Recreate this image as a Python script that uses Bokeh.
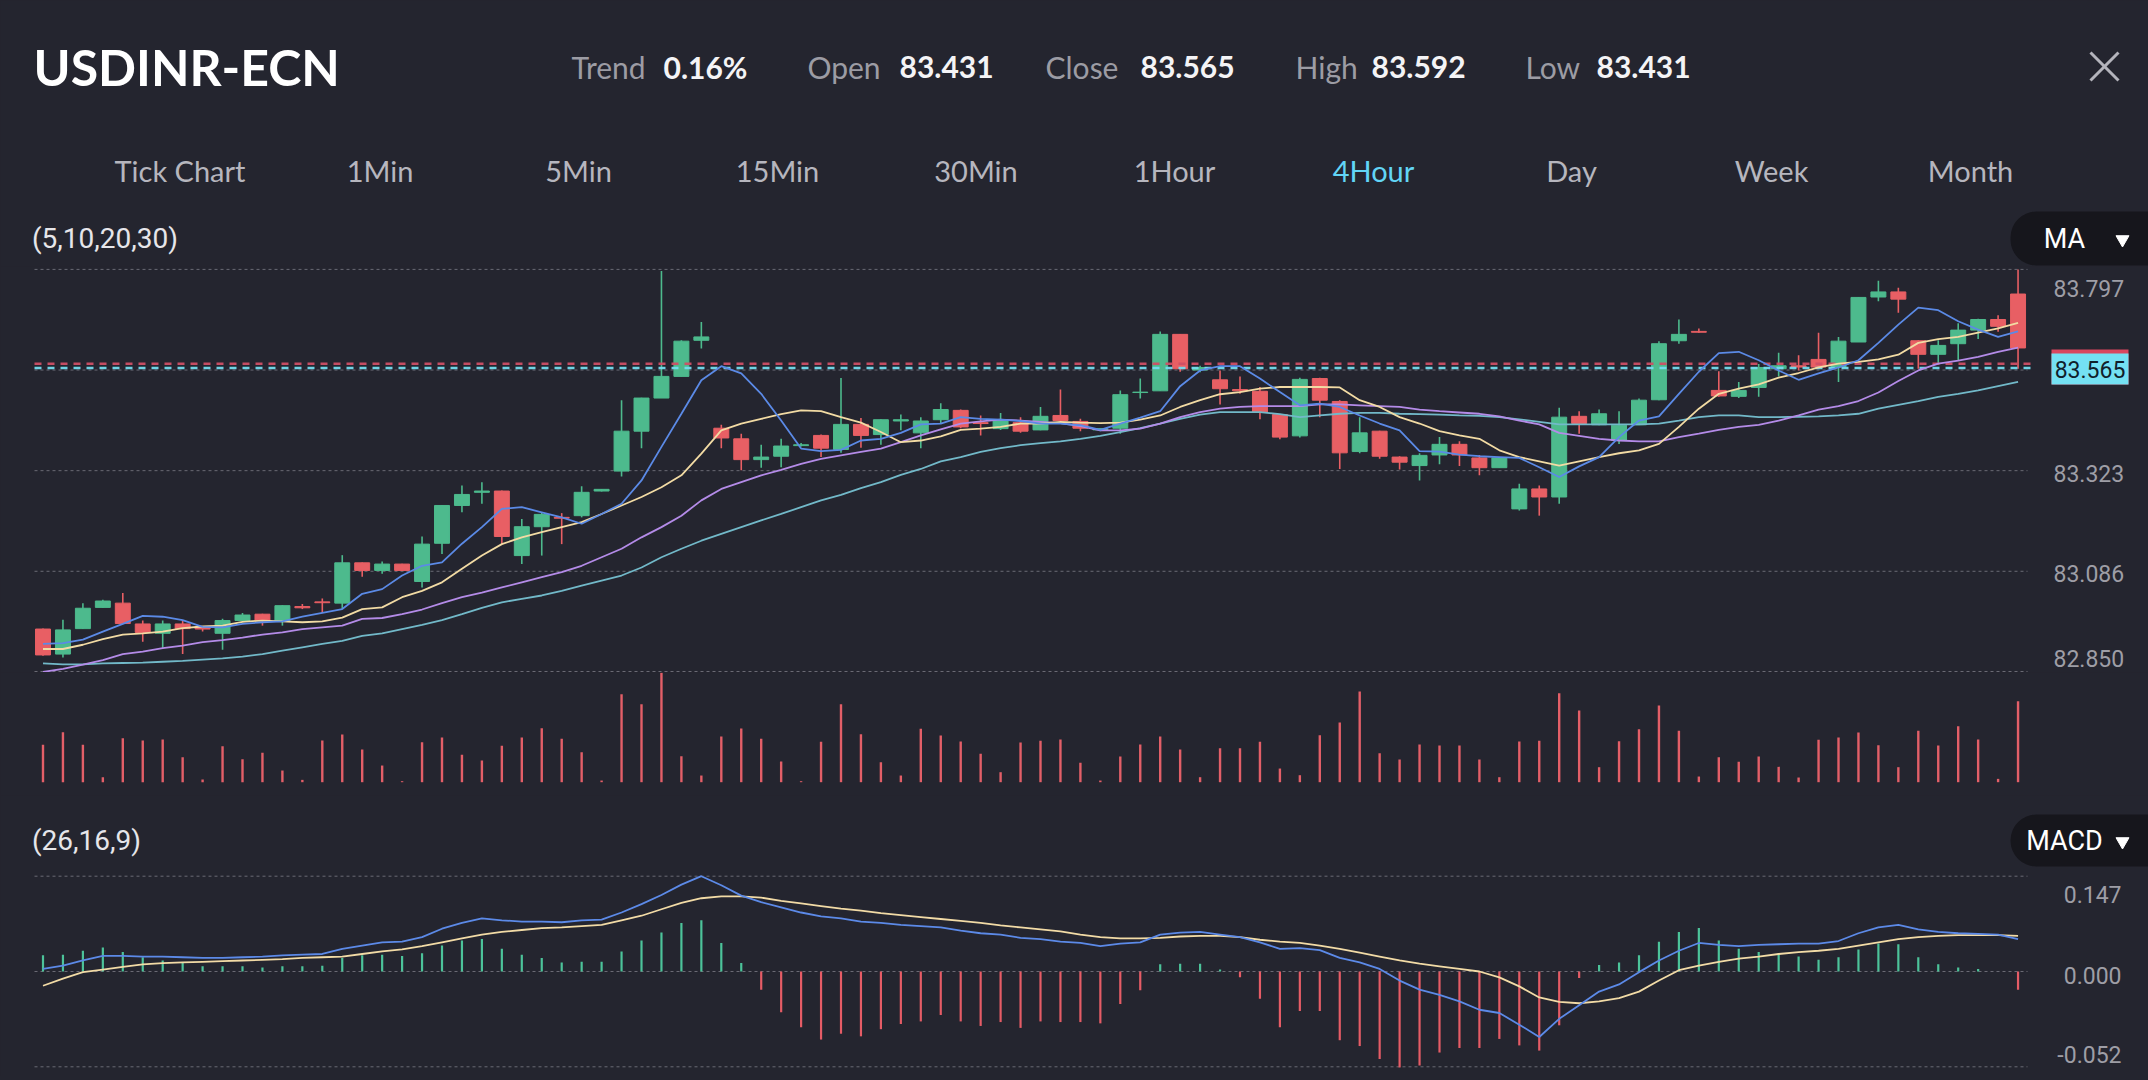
from bokeh.plotting import figure
from bokeh.layouts import column
from bokeh.models import Range1d, BoxAnnotation, ColumnDataSource
from bokeh.core.properties import value
from bokeh.embed import file_html
from bokeh.resources import INLINE

# ---------------- data ----------------
symbol = "USDINR-ECN"
stat_labels = ["Trend", "Open", "Close", "High", "Low"]
stat_values = ["0.16%", "83.431", "83.565", "83.592", "83.431"]
tabs = ["Tick Chart", "1Min", "5Min", "15Min", "30Min", "1Hour", "4Hour", "Day", "Week", "Month"]
active_tab = "4Hour"
ma_params = "(5,10,20,30)"
macd_params = "(26,16,9)"

open_ = [82.950, 82.891, 82.951, 83.001, 83.011, 82.962, 82.940, 82.962, 82.956, 82.940,
         82.970, 82.985, 82.968, 83.003, 83.014, 83.011, 83.106, 83.088, 83.103, 83.062,
         83.152, 83.241, 83.272, 83.275, 83.123, 83.191, 83.213, 83.217, 83.275, 83.322,
         83.416, 83.494, 83.545, 83.630, 83.423, 83.398, 83.349, 83.357, 83.382, 83.406,
         83.373, 83.432, 83.408, 83.440, 83.412, 83.443, 83.465, 83.436, 83.422, 83.436,
         83.419, 83.453, 83.439, 83.419, 83.423, 83.507, 83.511, 83.644, 83.560, 83.537,
         83.514, 83.510, 83.455, 83.405, 83.540, 83.486, 83.368, 83.416, 83.355, 83.335,
         83.360, 83.385, 83.353, 83.330, 83.233, 83.280, 83.261, 83.451, 83.431, 83.394,
         83.431, 83.490, 83.629, 83.651, 83.512, 83.498, 83.519, 83.563, 83.570, 83.585,
         83.567, 83.626, 83.732, 83.744, 83.629, 83.597, 83.622, 83.654, 83.679, 83.739]
high = [82.951, 82.972, 83.011, 83.019, 83.035, 82.970, 82.970, 82.970, 82.957, 82.974,
        82.988, 82.986, 83.006, 83.009, 83.022, 83.124, 83.107, 83.109, 83.104, 83.168,
        83.242, 83.288, 83.296, 83.276, 83.209, 83.225, 83.223, 83.286, 83.280, 83.489,
        83.495, 83.793, 83.630, 83.673, 83.431, 83.410, 83.384, 83.398, 83.388, 83.408,
        83.541, 83.447, 83.444, 83.455, 83.449, 83.482, 83.467, 83.453, 83.459, 83.449,
        83.473, 83.514, 83.445, 83.423, 83.512, 83.540, 83.651, 83.645, 83.570, 83.559,
        83.545, 83.520, 83.456, 83.542, 83.542, 83.489, 83.449, 83.417, 83.357, 83.364,
        83.402, 83.392, 83.360, 83.355, 83.292, 83.288, 83.471, 83.463, 83.467, 83.463,
        83.493, 83.628, 83.679, 83.658, 83.557, 83.532, 83.574, 83.601, 83.595, 83.648,
        83.638, 83.732, 83.770, 83.754, 83.630, 83.630, 83.670, 83.681, 83.689, 83.797]
low = [82.887, 82.883, 82.950, 83.000, 82.962, 82.920, 82.905, 82.891, 82.944, 82.901,
       82.970, 82.958, 82.958, 82.997, 82.988, 82.997, 83.073, 83.080, 83.087, 83.048,
       83.127, 83.225, 83.245, 83.150, 83.103, 83.123, 83.150, 83.213, 83.274, 83.309,
       83.376, 83.494, 83.545, 83.611, 83.376, 83.324, 83.330, 83.331, 83.380, 83.355,
       83.365, 83.377, 83.384, 83.418, 83.376, 83.434, 83.423, 83.406, 83.419, 83.412,
       83.418, 83.440, 83.416, 83.416, 83.410, 83.493, 83.511, 83.556, 83.555, 83.479,
       83.504, 83.444, 83.397, 83.401, 83.449, 83.327, 83.364, 83.351, 83.326, 83.300,
       83.338, 83.334, 83.312, 83.330, 83.229, 83.217, 83.245, 83.410, 83.430, 83.386,
       83.431, 83.489, 83.622, 83.648, 83.497, 83.494, 83.497, 83.545, 83.559, 83.566,
       83.532, 83.626, 83.722, 83.695, 83.563, 83.575, 83.583, 83.633, 83.650, 83.563]
close = [82.889, 82.948, 82.999, 83.016, 82.963, 82.942, 82.962, 82.951, 82.950, 82.970,
         82.983, 82.970, 83.005, 83.000, 83.012, 83.106, 83.088, 83.103, 83.088, 83.150,
         83.241, 83.267, 83.275, 83.168, 83.191, 83.220, 83.211, 83.272, 83.279, 83.416,
         83.494, 83.545, 83.628, 83.638, 83.400, 83.349, 83.355, 83.381, 83.384, 83.376,
         83.432, 83.406, 83.443, 83.443, 83.440, 83.467, 83.426, 83.434, 83.443, 83.416,
         83.451, 83.441, 83.423, 83.422, 83.502, 83.508, 83.644, 83.563, 83.566, 83.516,
         83.511, 83.461, 83.402, 83.538, 83.489, 83.365, 83.412, 83.357, 83.343, 83.359,
         83.385, 83.360, 83.330, 83.353, 83.280, 83.261, 83.449, 83.434, 83.457, 83.430,
         83.489, 83.622, 83.644, 83.649, 83.499, 83.512, 83.566, 83.570, 83.567, 83.567,
         83.628, 83.731, 83.744, 83.727, 83.597, 83.618, 83.654, 83.679, 83.663, 83.612]

ma5 = [82.915, 82.917, 82.925, 82.944, 82.962, 82.981, 82.979, 82.971, 82.955, 82.954,
       82.962, 82.966, 82.968, 82.979, 82.988, 82.997, 83.033, 83.044, 83.076, 83.099,
       83.107, 83.151, 83.190, 83.233, 83.237, 83.225, 83.213, 83.198, 83.221, 83.245,
       83.300, 83.379, 83.457, 83.536, 83.569, 83.552, 83.504, 83.441, 83.375, 83.369,
       83.372, 83.394, 83.398, 83.412, 83.432, 83.434, 83.449, 83.445, 83.443, 83.440,
       83.434, 83.434, 83.430, 83.419, 83.434, 83.448, 83.463, 83.522, 83.559, 83.569,
       83.569, 83.540, 83.508, 83.477, 83.481, 83.473, 83.453, 83.434, 83.418, 83.369,
       83.368, 83.361, 83.357, 83.355, 83.353, 83.331, 83.308, 83.333, 83.355, 83.402,
       83.441, 83.451, 83.504, 83.556, 83.600, 83.603, 83.583, 83.559, 83.537, 83.552,
       83.566, 83.583, 83.624, 83.667, 83.707, 83.701, 83.675, 83.655, 83.638, 83.651]
ma10 = [82.903, 82.903, 82.913, 82.926, 82.937, 82.940, 82.944, 82.952, 82.956, 82.958,
        82.967, 82.970, 82.968, 82.966, 82.968, 82.977, 82.997, 83.001, 83.025, 83.040,
        83.060, 83.092, 83.123, 83.150, 83.166, 83.178, 83.190, 83.202, 83.221, 83.241,
        83.261, 83.284, 83.312, 83.363, 83.418, 83.434, 83.445, 83.456, 83.465, 83.463,
        83.449, 83.436, 83.414, 83.390, 83.394, 83.404, 83.419, 83.422, 83.426, 83.434,
        83.434, 83.438, 83.436, 83.435, 83.436, 83.443, 83.453, 83.473, 83.489, 83.503,
        83.508, 83.516, 83.520, 83.520, 83.520, 83.519, 83.489, 83.473, 83.449, 83.434,
        83.416, 83.406, 83.398, 83.371, 83.355, 83.345, 83.335, 83.345, 83.355, 83.364,
        83.371, 83.386, 83.426, 83.469, 83.504, 83.516, 83.526, 83.542, 83.553, 83.566,
        83.575, 83.579, 83.585, 83.596, 83.624, 83.633, 83.638, 83.648, 83.658, 83.671]
ma20 = [82.849, 82.856, 82.866, 82.877, 82.891, 82.897, 82.905, 82.911, 82.919, 82.924,
        82.930, 82.937, 82.942, 82.950, 82.954, 82.958, 82.974, 82.976, 82.985, 82.996,
        83.011, 83.025, 83.036, 83.048, 83.060, 83.072, 83.084, 83.099, 83.119, 83.139,
        83.166, 83.190, 83.217, 83.253, 83.280, 83.296, 83.312, 83.325, 83.339, 83.351,
        83.359, 83.367, 83.375, 83.390, 83.406, 83.420, 83.434, 83.439, 83.443, 83.441,
        83.438, 83.435, 83.428, 83.418, 83.418, 83.422, 83.434, 83.449, 83.461, 83.469,
        83.473, 83.475, 83.475, 83.475, 83.479, 83.479, 83.477, 83.475, 83.473, 83.467,
        83.463, 83.460, 83.457, 83.451, 83.441, 83.432, 83.412, 83.405, 83.398, 83.394,
        83.392, 83.392, 83.402, 83.410, 83.419, 83.426, 83.431, 83.441, 83.453, 83.467,
        83.475, 83.487, 83.507, 83.534, 83.559, 83.575, 83.582, 83.591, 83.603, 83.613]
ma30 = [82.869, 82.867, 82.867, 82.869, 82.870, 82.871, 82.873, 82.875, 82.878, 82.881,
        82.885, 82.891, 82.899, 82.907, 82.915, 82.922, 82.934, 82.940, 82.950, 82.960,
        82.971, 82.985, 83.000, 83.013, 83.021, 83.029, 83.040, 83.052, 83.064, 83.076,
        83.095, 83.119, 83.139, 83.158, 83.174, 83.190, 83.206, 83.221, 83.237, 83.253,
        83.266, 83.282, 83.296, 83.313, 83.327, 83.345, 83.355, 83.367, 83.376, 83.383,
        83.388, 83.392, 83.398, 83.405, 83.414, 83.423, 83.434, 83.445, 83.455, 83.461,
        83.461, 83.461, 83.456, 83.449, 83.453, 83.457, 83.459, 83.459, 83.457, 83.456,
        83.455, 83.453, 83.452, 83.449, 83.444, 83.438, 83.432, 83.432, 83.432, 83.432,
        83.432, 83.434, 83.441, 83.449, 83.453, 83.453, 83.449, 83.449, 83.450, 83.451,
        83.453, 83.457, 83.469, 83.478, 83.487, 83.497, 83.504, 83.512, 83.522, 83.532]

volume = [112, 150, 112, 15, 132, 125, 128, 75, 8, 108,
          69, 88, 35, 7, 125, 143, 98, 50, 3, 120,
          134, 82, 65, 109, 134, 162, 130, 90, 5, 264,
          234, 328, 78, 20, 137, 161, 130, 62, 3, 121,
          234, 144, 60, 20, 160, 140, 122, 85, 30, 119,
          124, 128, 58, 5, 77, 113, 137, 98, 15, 102,
          102, 121, 41, 21, 141, 179, 272, 87, 68, 113,
          110, 110, 68, 15, 122, 124, 267, 215, 45, 123,
          159, 230, 154, 17, 75, 61, 77, 46, 14, 127,
          134, 149, 111, 45, 154, 110, 168, 128, 10, 243]

dif = [0.004, 0.009, 0.017, 0.024, 0.024, 0.023, 0.023, 0.022, 0.021, 0.021,
       0.022, 0.023, 0.025, 0.026, 0.027, 0.035, 0.040, 0.045, 0.046, 0.053,
       0.066, 0.075, 0.082, 0.079, 0.077, 0.077, 0.076, 0.079, 0.080, 0.091,
       0.104, 0.118, 0.134, 0.147, 0.133, 0.117, 0.107, 0.099, 0.091, 0.085,
       0.082, 0.077, 0.075, 0.072, 0.070, 0.068, 0.063, 0.059, 0.057, 0.052,
       0.050, 0.046, 0.044, 0.039, 0.043, 0.045, 0.057, 0.060, 0.061, 0.057,
       0.053, 0.045, 0.035, 0.036, 0.033, 0.021, 0.014, 0.004, -0.014, -0.028,
       -0.036, -0.046, -0.059, -0.064, -0.082, -0.101, -0.073, -0.052, -0.031, -0.020,
       -0.001, 0.017, 0.032, 0.044, 0.041, 0.039, 0.041, 0.042, 0.043, 0.043,
       0.047, 0.059, 0.068, 0.072, 0.065, 0.061, 0.059, 0.058, 0.057, 0.050]
dea = [-0.022, -0.011, -0.001, 0.003, 0.007, 0.011, 0.013, 0.014, 0.015, 0.016,
       0.017, 0.018, 0.019, 0.021, 0.022, 0.023, 0.027, 0.031, 0.034, 0.039,
       0.045, 0.051, 0.057, 0.061, 0.064, 0.067, 0.068, 0.070, 0.072, 0.079,
       0.086, 0.096, 0.106, 0.113, 0.116, 0.116, 0.114, 0.109, 0.105, 0.101,
       0.097, 0.094, 0.090, 0.087, 0.084, 0.081, 0.078, 0.075, 0.071, 0.068,
       0.065, 0.062, 0.057, 0.053, 0.051, 0.051, 0.052, 0.054, 0.055, 0.055,
       0.053, 0.049, 0.046, 0.044, 0.040, 0.035, 0.029, 0.023, 0.017, 0.012,
       0.008, 0.004, 0.000, -0.009, -0.023, -0.040, -0.047, -0.049, -0.046, -0.041,
       -0.031, -0.014, 0.002, 0.009, 0.015, 0.020, 0.023, 0.027, 0.030, 0.032,
       0.035, 0.040, 0.045, 0.050, 0.053, 0.055, 0.056, 0.056, 0.056, 0.055]
hist = [0.025, 0.026, 0.032, 0.037, 0.030, 0.022, 0.017, 0.013, 0.008, 0.008,
        0.008, 0.006, 0.008, 0.008, 0.009, 0.021, 0.025, 0.026, 0.024, 0.028,
        0.040, 0.048, 0.050, 0.035, 0.026, 0.021, 0.014, 0.015, 0.015, 0.031,
        0.048, 0.060, 0.075, 0.079, 0.044, 0.013, -0.028, -0.063, -0.086, -0.105,
        -0.096, -0.100, -0.089, -0.081, -0.077, -0.067, -0.077, -0.084, -0.078, -0.087,
        -0.077, -0.078, -0.078, -0.080, -0.050, -0.029, 0.011, 0.012, 0.012, 0.003,
        -0.009, -0.042, -0.086, -0.061, -0.061, -0.106, -0.115, -0.135, -0.148, -0.145,
        -0.125, -0.118, -0.118, -0.104, -0.114, -0.122, -0.083, -0.010, 0.010, 0.014,
        0.025, 0.046, 0.061, 0.067, 0.048, 0.035, 0.030, 0.028, 0.023, 0.018,
        0.022, 0.034, 0.043, 0.042, 0.022, 0.011, 0.006, 0.004, 0.000, -0.028]

price_grid = [83.797, 83.560, 83.323, 83.086, 82.850]
price_tick_labels = ["83.797", "83.323", "83.086", "82.850"]
macd_grid = [0.147, 0.0, -0.147]
macd_tick_labels = ["0.147", "0.000", "-0.052"]
last_price = 83.565
ask_price = 83.575

# ---------------- styling / layout ----------------
BG = "#24252f"
W = 2148
UP = "#4dba8d"
DOWN = "#e85f64"
GRID = "#6a6a74"
AXIS_TXT = "#9e9ea6"
C_MA5, C_MA10, C_MA20, C_MA30 = "#5b8ae6", "#f2dba4", "#b48be8", "#72b9c9"
C_DIF, C_DEA = "#5c8ae8", "#f2dba6"
LATO = value("Lato")
ROBOTO = value("Roboto")


def X(wx):   # window pixel x -> candle index units
    return (wx - 42.5) / 19.95


def PY(wy):  # window pixel y -> price
    return 82.85 + (671.0 - wy) / 424.6


def VY(wy):  # window pixel y -> volume units
    return (781.7 - wy) * 3.0


def MY(wy):  # window pixel y -> MACD units
    return (971.0 - wy) * 0.0015425


def base_fig(height, x_range, y_range):
    f = figure(width=W, height=height, x_range=x_range, y_range=y_range,
               toolbar_location=None, output_backend="svg", tools="",
               x_axis_location=None, y_axis_location=None,
               min_border=0, outline_line_color=None,
               background_fill_color=BG, border_fill_color=BG)
    f.grid.visible = False
    return f


idx = list(range(len(close)))

# ---------- header (window y 0..266) ----------
hdr = base_fig(266, Range1d(0, 2148), Range1d(-266, 0))
hdr.text(x=[33], y=[-66], text=[symbol], text_font=LATO, text_font_style="bold",
         text_font_size="50px", text_color="#ffffff", text_align="left", text_baseline="middle")
stat_label_x = [571, 807, 1045, 1295, 1525]
stat_value_x = [663, 899, 1140, 1371, 1596]
hdr.text(x=stat_label_x, y=-66, text=stat_labels, text_font=LATO, text_font_size="30px",
         text_color="#9c9ca4", text_align="left", text_baseline="middle")
hdr.text(x=stat_value_x, y=-66, text=stat_values, text_font=LATO, text_font_style="bold",
         text_font_size="30px", text_color="#f4f4f6", text_align="left", text_baseline="middle")
hdr.segment(x0=[2090, 2118], y0=[-52, -52], x1=[2118, 2090], y1=[-80, -80],
            line_color="#b4b4bc", line_width=3)
tab_x = [179.5, 379.5, 578, 777, 975.5, 1174, 1373, 1571, 1771, 1970]
tab_colors = ["#62d5f6" if t == active_tab else "#b6b6be" for t in tabs]
hdr.text(x=tab_x, y=-170, text=tabs, text_font=LATO, text_font_size="29px",
         text_color=tab_colors, text_align="center", text_baseline="middle")
hdr.text(x=[31.5], y=[-238], text=[ma_params], text_font=ROBOTO, text_font_size="28px",
         text_color="#e6e6ea", text_align="left", text_baseline="middle")
hdr.add_layout(BoxAnnotation(left=2010, right=2220, top=-211, bottom=-265,
                             fill_color="#16161c", fill_alpha=1.0, line_color=None,
                             border_radius=26, level="underlay"))
hdr.text(x=[2064], y=[-238], text=["MA"], text_font=ROBOTO, text_font_size="27px",
         text_color="#ffffff", text_align="center", text_baseline="middle")
hdr.scatter(x=[2122], y=[-239], marker="inverted_triangle", size=13,
            fill_color="#ffffff", line_color="#ffffff")

# ---------- price panel (window y 266..672) ----------
xr = Range1d(X(0), X(2148))
pr = base_fig(406, xr, Range1d(PY(672), PY(266)))
gx0, gx1 = X(34), X(2027)
pr.segment(x0=gx0, x1=gx1, y0=price_grid, y1=price_grid, line_color=GRID,
           line_dash="3 3", line_width=1)

colors = [UP if c >= o else DOWN for o, c in zip(open_, close)]
src = ColumnDataSource(dict(
    x=idx, high=high, low=low,
    top=[max(o, c) for o, c in zip(open_, close)],
    bottom=[min(o, c) for o, c in zip(open_, close)],
    color=colors))
pr.segment(x0="x", y0="high", x1="x", y1="low", line_color="color", line_width=1.6, source=src)
pr.vbar(x="x", top="top", bottom="bottom", width=0.75, fill_color="color",
        line_color="color", line_width=1, source=src)

pr.segment(x0=gx0, x1=X(2030), y0=ask_price, y1=ask_price, line_color="#cf4f66",
           line_width=2.5, line_dash="7 6", line_alpha=0.95)
pr.segment(x0=gx0, x1=X(2030), y0=last_price, y1=last_price, line_color="#74dcef",
           line_width=2.5, line_dash="7 6", line_alpha=0.95)

for arr, col in [(ma30, C_MA30), (ma20, C_MA20), (ma10, C_MA10), (ma5, C_MA5)]:
    pr.line(idx, arr, line_color=col, line_width=1.8)

pr.text(x=X(2053), y=[PY(288), PY(472.8), PY(573), PY(658)], text=price_tick_labels,
        text_font=ROBOTO, text_font_size="23px", text_color=AXIS_TXT,
        text_align="left", text_baseline="middle")
pr.quad(left=X(2051), right=X(2128), top=PY(349), bottom=PY(384),
        fill_color="#d9475f", line_color=None)
pr.quad(left=X(2051), right=X(2128), top=PY(353), bottom=PY(384),
        fill_color="#74e1f3", line_color=None)
pr.text(x=[X(2089.5)], y=[PY(368.5)], text=[f"{last_price:.3f}"], text_font=ROBOTO,
        text_font_size="23px", text_color="#10202a", text_align="center", text_baseline="middle")

# ---------- volume panel (window y 672..795) ----------
vf = base_fig(123, xr, Range1d(VY(795), VY(672)))
vf.vbar(x=idx, top=volume, bottom=0, width=0.12, fill_color="#e35f68", line_color=None)

# ---------- MACD panel (window y 795..1076) ----------
mf = base_fig(281, xr, Range1d(MY(1076), MY(795)))
mf.segment(x0=gx0, x1=gx1, y0=macd_grid, y1=macd_grid, line_color=GRID,
           line_dash="3 3", line_width=1)
hist_colors = ["#4cc39a" if h >= 0 else "#e55c66" for h in hist]
mf.vbar(x=idx, top=hist, bottom=0, width=0.11, fill_color=hist_colors, line_color=None)
mf.line(idx, dea, line_color=C_DEA, line_width=1.8)
mf.line(idx, dif, line_color=C_DIF, line_width=1.8)
mf.text(x=X(2121), y=[MY(893.6), MY(974.5), MY(1054)], text=macd_tick_labels,
        text_font=ROBOTO, text_font_size="23px", text_color=AXIS_TXT,
        text_align="right", text_baseline="middle")
mf.text(x=[X(31.5)], y=[MY(840)], text=[macd_params], text_font=ROBOTO, text_font_size="28px",
        text_color="#e6e6ea", text_align="left", text_baseline="middle")
mf.add_layout(BoxAnnotation(left=X(2010), right=X(2220), top=MY(814), bottom=MY(866),
                            fill_color="#16161c", fill_alpha=1.0, line_color=None,
                            border_radius=26, level="underlay"))
mf.text(x=[X(2064)], y=[MY(840)], text=["MACD"], text_font=ROBOTO, text_font_size="27px",
        text_color="#ffffff", text_align="center", text_baseline="middle")
mf.scatter(x=[X(2122)], y=[MY(841)], marker="inverted_triangle", size=13,
           fill_color="#ffffff", line_color="#ffffff")

layout = column(hdr, pr, vf, mf, spacing=0)

html = file_html(layout, INLINE, title="USDINR-ECN")
html = html.replace("</head>",
                    "<style>html, body { background-color: %s; overflow: hidden; }</style>\n</head>" % BG, 1)
open("out.html", "w").write(html)
